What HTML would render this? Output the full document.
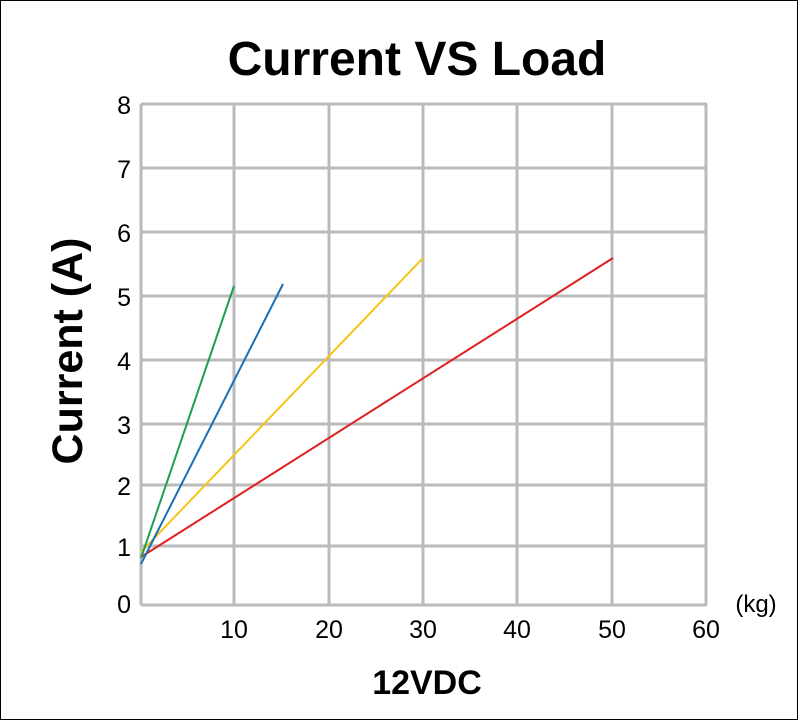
<!DOCTYPE html>
<html><head><meta charset="utf-8"><style>
html,body{margin:0;padding:0;background:#fff}
svg{display:block}
text{font-family:"Liberation Sans",sans-serif;fill:#000}
</style></head><body>
<svg width="798" height="720" viewBox="0 0 798 720" xmlns="http://www.w3.org/2000/svg">
<rect x="0.5" y="0.5" width="797" height="719" fill="#fff" stroke="#000" stroke-width="1"/>
<text x="417" y="75" font-size="48" font-weight="bold" text-anchor="middle">Current VS Load</text>
<g stroke="#bbb" stroke-width="3" fill="none">
<line x1="141" y1="104" x2="707" y2="104"/>
<line x1="141" y1="168" x2="707" y2="168"/>
<line x1="141" y1="232" x2="707" y2="232"/>
<line x1="141" y1="296" x2="707" y2="296"/>
<line x1="141" y1="360" x2="707" y2="360"/>
<line x1="141" y1="424" x2="707" y2="424"/>
<line x1="141" y1="485" x2="707" y2="485"/>
<line x1="141" y1="546" x2="707" y2="546"/>
<line x1="141" y1="605" x2="707" y2="605"/>
<line x1="141" y1="104" x2="141" y2="605"/>
<line x1="234" y1="104" x2="234" y2="605"/>
<line x1="329" y1="104" x2="329" y2="605"/>
<line x1="423" y1="104" x2="423" y2="605"/>
<line x1="517" y1="104" x2="517" y2="605"/>
<line x1="612" y1="104" x2="612" y2="605"/>
<line x1="706" y1="104" x2="706" y2="605"/>
</g>
<g stroke-width="2" fill="none">
<line x1="141" y1="552" x2="423" y2="258" stroke="#f5c518"/>
<line x1="141" y1="557" x2="613" y2="258" stroke="#e02020"/>
<line x1="141" y1="564" x2="283" y2="284" stroke="#1a6fb5"/>
<line x1="141" y1="558" x2="234" y2="286" stroke="#1aa050"/>
</g>
<g font-size="25" text-anchor="end">
<text x="131" y="114">8</text>
<text x="131" y="178">7</text>
<text x="131" y="242">6</text>
<text x="131" y="306">5</text>
<text x="131" y="370">4</text>
<text x="131" y="434">3</text>
<text x="131" y="495">2</text>
<text x="131" y="556">1</text>
<text x="131" y="613">0</text>
</g>
<g font-size="25" text-anchor="middle">
<text x="234" y="638">10</text>
<text x="329" y="638">20</text>
<text x="423" y="638">30</text>
<text x="517" y="638">40</text>
<text x="612" y="638">50</text>
<text x="706" y="638">60</text>
</g>
<text x="756" y="612" font-size="24" text-anchor="middle">(kg)</text>
<text x="427" y="694" font-size="34" font-weight="bold" text-anchor="middle">12VDC</text>
<text transform="translate(82,351) rotate(-90)" font-size="43" font-weight="bold" text-anchor="middle">Current (A)</text>
</svg>
</body></html>
